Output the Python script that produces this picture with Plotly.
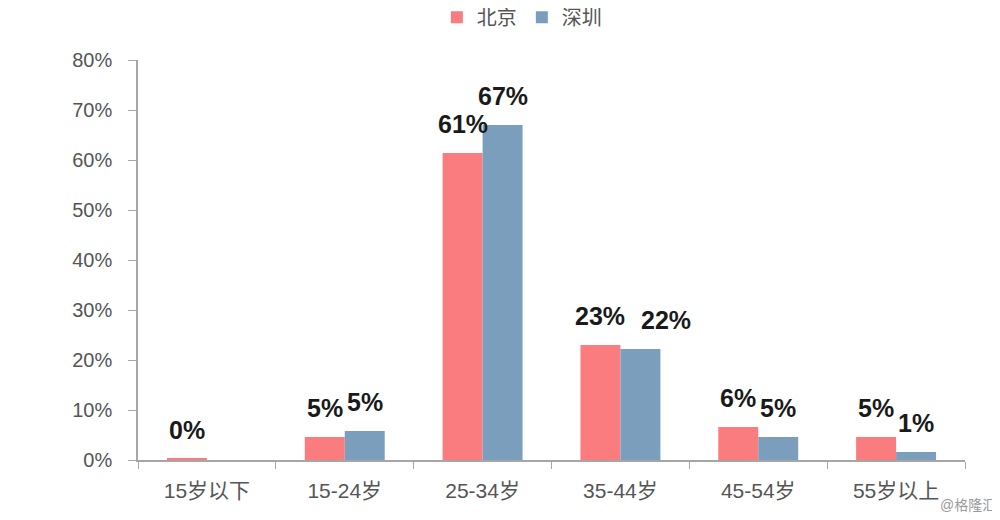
import plotly.graph_objects as go

categories = ["15岁以下", "15-24岁", "25-34岁", "35-44岁", "45-54岁", "55岁以上"]
beijing = [0.3, 4.6, 61.4, 23.0, 6.6, 4.6]
shenzhen = [0.0, 5.8, 67.0, 22.2, 4.6, 1.6]
beijing_labels = ["0%", "5%", "61%", "23%", "6%", "5%"]
shenzhen_labels = ["", "5%", "67%", "22%", "5%", "1%"]

RED = "#FA7C7F"
BLUE = "#7B9EBD"
FONT = "Liberation Sans, Arial, Noto Sans CJK SC, sans-serif"

fig = go.Figure()
fig.add_trace(go.Bar(name="北京", x=categories, y=beijing, marker_color=RED, marker_line_width=0))
fig.add_trace(go.Bar(name="深圳", x=categories, y=shenzhen, marker_color=BLUE, marker_line_width=0))

annotations = []
for cat, v, t in zip(categories, beijing, beijing_labels):
    if t:
        annotations.append(dict(x=cat, y=v, text="<b>" + t + "</b>", showarrow=False, xshift=-20, yshift=29,
                                font=dict(size=25, color="#1a1a1a", family=FONT), xref="x", yref="y"))
for cat, v, t in zip(categories, shenzhen, shenzhen_labels):
    if t:
        # the 35-44 label sits nudged right of its bar in the reference
        xs = 46 if cat == "35-44岁" else 20
        annotations.append(dict(x=cat, y=v, text="<b>" + t + "</b>", showarrow=False, xshift=xs, yshift=29,
                                font=dict(size=25, color="#1a1a1a", family=FONT), xref="x", yref="y"))
annotations.append(dict(x=1, y=0, xref="paper", yref="paper", xanchor="right", yanchor="middle",
                        text="@格隆汇", showarrow=False, xshift=33, yshift=-45,
                        font=dict(size=14, color="#9a9a9a", family=FONT)))

fig.update_layout(
    width=992, height=512,
    paper_bgcolor="white", plot_bgcolor="white",
    margin=dict(l=130, r=35, t=52, b=60),
    barmode="group", bargap=0.42, bargroupgap=0,
    font=dict(family=FONT, color="#555555"),
    showlegend=True,
    legend=dict(orientation="h", x=0.518, xref="container", xanchor="center", y=0.982, yref="container", yanchor="middle",
                font=dict(size=20, color="#555555"), traceorder="normal", itemwidth=30),
    annotations=annotations,
)
fig.update_yaxes(range=[0, 80], dtick=10, ticksuffix="%", showgrid=False, zeroline=False,
                 showline=True, linecolor="#a6a6a6", linewidth=1.5, ticks="outside", ticklen=8,
                 tickcolor="#a6a6a6", tickfont=dict(size=20, color="#555555"), ticklabelstandoff=12)
fig.update_xaxes(showline=True, linecolor="#a6a6a6", linewidth=1.5, ticks="outside", ticklen=7,
                 tickson="boundaries", tickcolor="#a6a6a6", tickfont=dict(size=21, color="#555555"),
                 showgrid=False, ticklabelstandoff=11)

fig.write_html("out.html")
